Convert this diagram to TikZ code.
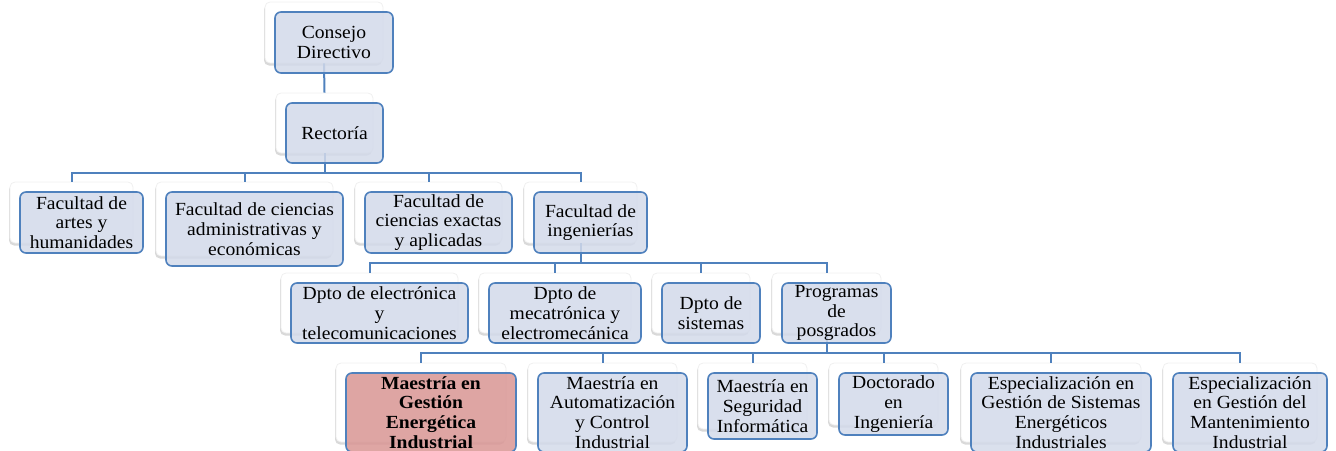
\documentclass[tikz,border=0pt]{standalone}
\usepackage{fontspec}
\setmainfont[FakeStretch=1.06]{Liberation Serif}
\usetikzlibrary{shadows}
\definecolor{linea}{HTML}{4F81BD}
\definecolor{relleno}{HTML}{D3DAEA}
\definecolor{rojo}{HTML}{D99694}

\begin{document}
\begin{tikzpicture}[x=1pt, y=-1pt,
    marco/.style={rectangle, rounded corners=5pt, fill=white, draw=black!6, line width=0.8pt, inner sep=0pt,
        general shadow={fill=black!15, shadow xshift=-1pt, shadow yshift=-2.5pt}},
    caja/.style={rectangle, rounded corners=6pt, draw=linea, line width=1.6pt,
        fill=relleno, fill opacity=0.85, text opacity=1, align=center, inner sep=2pt,
        font=\fontsize{18.5}{19.8}\selectfont},
    destacada/.style={caja, fill=rojo, font=\fontsize{18.5}{19.8}\selectfont\bfseries},
    enlace/.style={draw=linea, line width=2pt}
]
\useasboundingbox (0,0) rectangle (1336,450);
\clip (0,0) rectangle (1336,450);

% Marcos
\node[marco, minimum width=118, minimum height=61] (consejoM) at (324,32.5) {};
\node[marco, minimum width=97, minimum height=60] (rectoriaM) at (324.5,123) {};
\node[marco, minimum width=123, minimum height=61] (artesM) at (71.5,212.5) {};
\node[marco, minimum width=177, minimum height=74] (administrativasM) at (244.5,219) {};
\node[marco, minimum width=147, minimum height=61] (exactasM) at (428.5,212.5) {};
\node[marco, minimum width=113, minimum height=61] (ingenieriasM) at (580.5,212.5) {};
\node[marco, minimum width=177, minimum height=60] (electronicaM) at (369.5,303) {};
\node[marco, minimum width=152, minimum height=60] (mecatronicaM) at (555,303) {};
\node[marco, minimum width=98, minimum height=60] (sistemasM) at (701,303) {};
\node[marco, minimum width=109, minimum height=60] (posgradosM) at (826.5,303) {};
\node[marco, minimum width=170, minimum height=79] (energeticaM) at (421,402.5) {};
\node[marco, minimum width=149, minimum height=79] (automatizacionM) at (602.5,402.5) {};
\node[marco, minimum width=109, minimum height=66] (seguridadM) at (752.5,396) {};
\node[marco, minimum width=109, minimum height=62] (doctoradoM) at (883.5,394) {};
\node[marco, minimum width=180, minimum height=79] (gestionM) at (1051,402.5) {};
\node[marco, minimum width=154, minimum height=79] (mantenimientoM) at (1240,402.5) {};

% Enlaces
\coordinate (bus1) at (0,173);
\coordinate (bus2) at (0,263);
\coordinate (bus3) at (0,353);
\draw[enlace] (consejoM.south) -- (rectoriaM.north);
\foreach \hijo in {artesM, administrativasM, exactasM, ingenieriasM}
    \draw[enlace] (rectoriaM.south) -- (rectoriaM.south |- bus1) -| (\hijo.north);
\foreach \hijo in {electronicaM, mecatronicaM, sistemasM, posgradosM}
    \draw[enlace] (ingenieriasM.south) -- (ingenieriasM.south |- bus2) -| (\hijo.north);
\foreach \hijo in {energeticaM, automatizacionM, seguridadM, doctoradoM, gestionM, mantenimientoM}
    \draw[enlace] (posgradosM.south) -- (posgradosM.south |- bus3) -| (\hijo.north);

% Cajas
\node[caja, minimum width=118, minimum height=61] (consejo) at (334,42.5) {Consejo\\Directivo};
\node[caja, minimum width=97, minimum height=60] (rectoria) at (334.5,133) {Rectoría};
\node[caja, minimum width=123, minimum height=61] (artes) at (81.5,222.5) {Facultad de\\artes y\\humanidades};
\node[caja, minimum width=177, minimum height=74] (administrativas) at (254.5,229) {Facultad de ciencias\\administrativas y\\económicas};
\node[caja, minimum width=147, minimum height=61] (exactas) at (438.5,222.5) {Facultad de\\ciencias exactas\\y aplicadas};
\node[caja, minimum width=113, minimum height=61] (ingenierias) at (590.5,222.5) {Facultad de\\ingenierías};
\node[caja, minimum width=177, minimum height=60] (electronica) at (379.5,313) {Dpto de electrónica\\y\\telecomunicaciones};
\node[caja, minimum width=152, minimum height=60] (mecatronica) at (565,313) {Dpto de\\mecatrónica y\\electromecánica};
\node[caja, minimum width=98, minimum height=60] (sistemas) at (711,313) {Dpto de\\sistemas};
\node[caja, minimum width=109, minimum height=60] (posgrados) at (836.5,313) {Programas\\de\\posgrados};
\node[destacada, minimum width=170, minimum height=79] (energetica) at (431,412.5) {Maestría en\\Gestión\\Energética\\Industrial};
\node[caja, minimum width=149, minimum height=79] (automatizacion) at (612.5,412.5) {Maestría en\\Automatización\\y Control\\Industrial};
\node[caja, minimum width=109, minimum height=66] (seguridad) at (762.5,406) {Maestría en\\Seguridad\\Informática};
\node[caja, minimum width=109, minimum height=62] (doctorado) at (893.5,404) {Doctorado\\en\\Ingeniería};
\node[caja, minimum width=180, minimum height=79] (gestion) at (1061,412.5) {Especialización en\\Gestión de Sistemas\\Energéticos\\Industriales};
\node[caja, minimum width=154, minimum height=79] (mantenimiento) at (1250,412.5) {Especialización\\en Gestión del\\Mantenimiento\\Industrial};

\end{tikzpicture}
\end{document}
